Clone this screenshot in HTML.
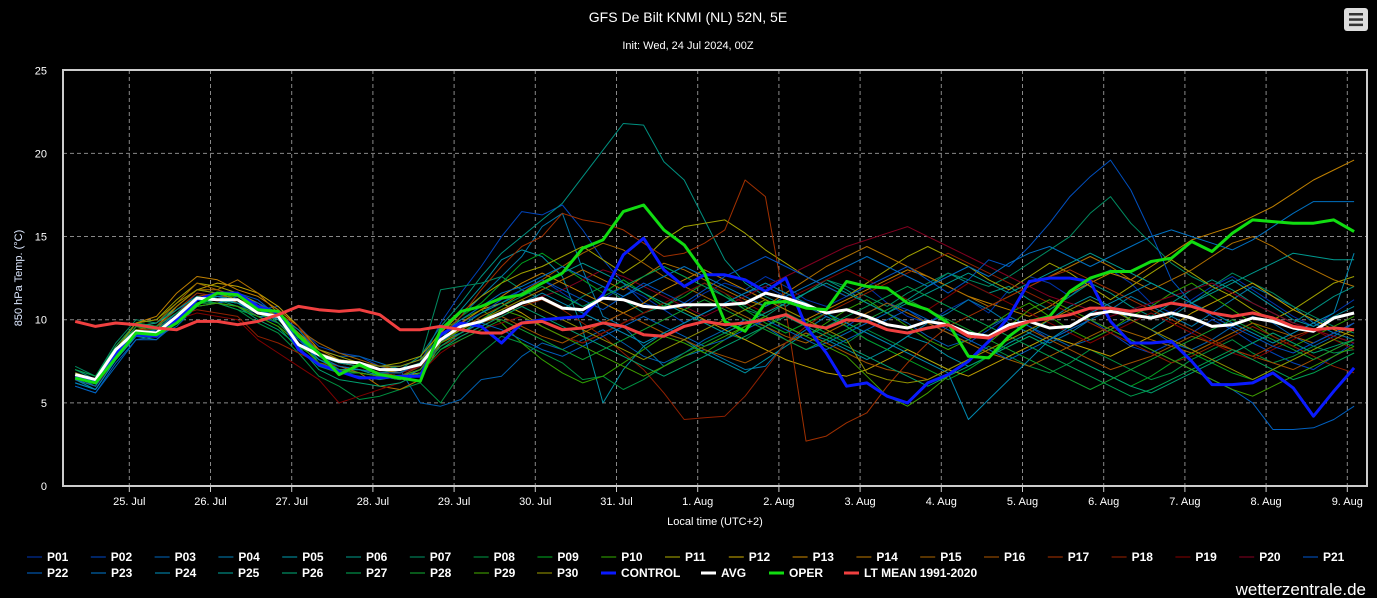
<!DOCTYPE html>
<html><head><meta charset="utf-8"><style>
html,body{margin:0;padding:0;background:#000;width:1377px;height:598px;overflow:hidden}
svg{display:block;font-family:"Liberation Sans",sans-serif}
</style></head><body>
<svg id="chart" width="1377" height="598" viewBox="0 0 1377 598">
<rect x="0" y="0" width="1377" height="598" fill="#000"/>
<text x="688" y="22" text-anchor="middle" fill="#fff" font-size="14">GFS De Bilt KNMI (NL) 52N, 5E</text>
<text x="688" y="49" text-anchor="middle" fill="#fff" font-size="11">Init: Wed, 24 Jul 2024, 00Z</text>
<g>
<rect x="1344" y="8" width="24" height="23" rx="3" fill="#ddd"/>
<rect x="1349" y="13" width="14" height="2.5" fill="#333"/><rect x="1349" y="18.3" width="14" height="2.5" fill="#333"/><rect x="1349" y="23.6" width="14" height="2.5" fill="#333"/>
</g>
<g id="grid"></g>
<g id="series"></g>
<rect x="63" y="70" width="1304" height="416" fill="none" stroke="#ccc" stroke-width="2"/>
<g id="axes"></g>
<text transform="translate(22,278) rotate(-90)" text-anchor="middle" fill="#dde8ff" font-size="11">850 hPa Temp. (°C)</text>
<text x="715" y="525" text-anchor="middle" fill="#fff" font-size="11">Local time (UTC+2)</text>
<g id="legend"></g>
<text x="1366" y="595" text-anchor="end" fill="#fff" font-size="17">wetterzentrale.de</text>
</svg>
<script>
const yTicks=[0,5,10,15,20,25];
const xTickLabels=["25. Jul","26. Jul","27. Jul","28. Jul","29. Jul","30. Jul","31. Jul","1. Aug","2. Aug","3. Aug","4. Aug","5. Aug","6. Aug","7. Aug","8. Aug","9. Aug"];
const memberNames=["P01","P02","P03","P04","P05","P06","P07","P08","P09","P10","P11","P12","P13","P14","P15","P16","P17","P18","P19","P20","P21","P22","P23","P24","P25","P26","P27","P28","P29","P30"];
const memberColors=["#0033aa","#0044bb","#0060b0","#0077aa","#0090a0","#009080","#008a60","#009040","#00a020","#30a000","#a0a000","#c0a000","#c08000","#b07000","#a06000","#a05000","#a03000","#902000","#800000","#800020","#0050c0","#0060c0","#0070c0","#0088b0","#009a90","#00a070","#00a050","#10a030","#40a000","#909000"];
const P01=[6.8,6.2,8.0,9.4,9.3,10.4,11.6,11.4,11.0,10.2,9.8,8.8,8.0,7.6,7.4,7.0,7.2,7.6,9.0,9.8,10.4,11.0,11.8,12.4,11.6,10.8,11.2,12.0,11.4,10.6,10.8,11.6,12.2,11.8,12.6,12.0,11.2,10.8,11.4,12.0,11.0,10.2,9.8,10.6,11.2,10.4,11.8,12.6,12.2,11.4,12.4,13.0,12.2,11.0,10.4,11.2,12.0,12.6,11.8,11.0,10.2,9.6,10.4,11.2];
const P02=[6.2,5.8,7.6,9.0,9.2,10.0,11.0,11.4,11.2,10.6,10.8,9.6,8.4,8.0,7.8,7.2,6.8,7.4,9.8,11.6,13.2,15.0,16.5,16.3,16.9,15.4,13.6,12.2,11.0,10.6,9.8,10.4,11.0,11.6,12.0,11.4,10.8,10.2,9.6,10.4,11.0,10.6,9.8,9.2,8.6,9.4,10.2,9.6,8.8,9.4,10.0,9.2,8.4,8.0,8.6,9.2,10.0,9.4,8.6,8.0,7.4,7.0,7.8,8.6];
const P03=[6.0,5.6,7.2,8.8,9.0,9.6,10.8,11.0,11.2,10.8,10.0,9.0,8.2,7.8,7.8,7.4,7.0,5.0,4.8,5.2,6.4,6.6,7.8,8.6,8.2,8.8,9.4,8.6,7.8,7.4,8.0,8.8,9.4,10.0,9.6,8.8,8.2,8.6,9.2,9.8,10.4,9.8,9.0,8.4,8.8,9.6,10.2,9.6,9.0,8.4,8.8,9.4,10.0,9.4,8.6,8.2,8.8,9.6,10.2,9.8,9.0,8.4,9.0,9.8];
const P04=[6.6,6.0,7.8,9.2,9.4,10.2,11.4,11.2,11.6,11.0,10.4,9.2,7.8,7.0,7.0,6.8,6.6,7.0,8.8,10.2,11.4,12.6,13.8,15.6,16.4,13.0,10.2,9.6,8.4,7.2,7.8,8.2,7.6,7.0,7.2,8.6,9.4,10.2,9.6,8.8,8.2,9.0,9.8,10.4,11.2,10.6,9.8,9.2,8.6,9.2,10.0,10.6,11.4,10.8,10.2,9.6,10.4,11.2,12.0,11.4,10.8,9.8,9.2,8.8];
const P05=[6.4,5.8,7.6,9.0,8.8,10.0,11.0,11.0,10.8,10.2,10.2,9.0,7.4,6.8,6.8,6.6,6.6,7.2,9.2,10.6,12.0,13.6,14.2,13.8,12.6,9.4,5.0,7.0,8.4,9.2,8.8,8.0,7.4,6.8,7.6,8.4,9.2,8.8,8.2,7.6,8.2,9.0,8.6,7.8,7.2,7.8,8.6,9.2,10.0,10.8,11.4,10.8,10.0,9.4,10.2,11.0,11.8,12.4,11.6,10.8,10.0,9.6,10.2,10.8];
const P06=[7.0,6.4,8.4,9.8,9.6,10.6,11.4,11.2,11.0,10.4,10.0,8.8,7.6,7.2,7.0,6.8,7.0,7.8,9.6,11.0,12.6,14.0,15.0,16.0,17.0,18.6,20.2,21.8,21.7,19.5,18.4,16.0,13.6,12.2,11.4,10.8,11.6,12.4,11.8,11.0,10.4,11.2,12.0,12.8,12.2,11.6,12.0,11.2,10.6,11.4,12.2,11.6,10.8,10.2,11.0,11.8,12.4,11.8,11.0,10.4,9.8,10.6,11.4,12.0];
const P07=[7.2,6.6,8.6,10.0,9.8,10.8,11.8,11.6,11.2,10.8,9.8,8.6,7.4,6.8,7.2,7.0,7.2,7.6,11.8,12.0,12.2,12.6,11.8,11.2,10.6,11.4,12.0,11.2,10.4,10.8,11.6,12.2,11.4,10.6,10.2,11.0,11.6,12.4,12.0,11.4,10.8,11.6,12.2,12.8,12.4,12.0,12.6,13.4,14.2,15.0,16.4,17.4,15.8,14.6,13.4,12.6,12.0,12.8,12.2,11.6,10.8,10.2,9.6,9.2];
const P08=[6.8,6.4,8.0,9.4,9.4,10.0,11.2,11.0,10.6,9.8,9.2,8.0,6.6,6.0,5.2,5.4,5.8,6.2,5.0,6.8,8.0,9.0,8.6,8.0,7.4,6.4,6.6,5.8,6.4,7.2,8.0,8.6,9.2,8.8,9.6,10.4,9.8,9.2,8.6,9.4,8.8,8.2,7.6,7.0,7.6,8.4,7.8,7.2,6.8,7.4,8.2,7.6,7.0,6.4,6.8,7.6,8.2,8.8,8.0,7.4,7.8,8.4,8.0,8.2];
const P09=[7.0,6.6,8.2,9.8,9.6,10.4,11.0,11.2,11.0,10.8,10.2,8.4,7.6,7.0,7.0,6.6,6.6,7.2,9.0,10.2,11.0,12.2,13.4,14.0,13.2,12.4,11.6,12.4,11.6,10.8,11.4,12.2,11.6,10.6,9.8,9.2,9.8,10.4,9.6,8.8,8.2,7.6,7.0,6.4,7.0,7.8,8.4,9.0,8.4,7.8,7.2,6.6,6.0,6.6,7.4,8.0,7.4,6.8,6.4,7.0,7.6,8.2,8.8,8.4];
const P10=[6.6,6.2,7.8,9.6,9.2,10.2,11.0,11.4,11.4,10.6,10.2,9.4,8.0,7.6,7.4,7.0,6.8,7.4,9.4,10.0,10.6,9.8,8.6,7.6,6.8,6.2,6.6,7.4,8.2,9.0,8.6,8.0,8.8,9.6,10.2,9.6,9.0,9.8,10.6,11.2,10.4,9.6,8.8,8.2,8.8,9.6,10.4,11.0,10.2,9.4,8.8,9.4,10.2,10.8,11.6,12.2,11.4,10.6,9.8,9.0,8.4,9.0,9.6,10.2];
const P11=[6.6,6.2,8.2,9.8,10.0,11.2,12.2,12.0,11.6,11.0,10.2,9.2,8.2,7.8,7.4,7.2,7.4,7.8,9.2,10.4,11.4,12.2,12.8,13.2,13.8,14.4,13.6,12.8,13.6,14.8,15.6,15.8,16.0,15.2,14.2,13.4,12.6,12.0,11.4,12.2,13.0,13.8,14.4,13.8,13.2,12.4,11.8,12.6,13.4,12.8,12.0,11.2,12.0,12.8,13.6,12.8,12.0,11.4,10.6,10.0,10.6,11.4,12.2,12.6];
const P12=[6.4,6.0,7.8,9.4,9.6,10.8,11.8,12.2,12.0,11.6,10.8,9.6,8.0,7.4,7.2,6.8,6.6,6.8,8.6,9.8,10.6,11.0,10.4,9.6,9.0,8.6,9.2,9.8,10.4,11.0,10.6,10.0,9.4,8.8,8.2,7.6,7.2,6.8,6.6,7.0,7.6,8.2,7.6,7.0,6.6,7.2,7.8,8.4,9.0,8.6,8.2,7.8,8.4,9.0,9.6,10.4,11.0,11.6,12.2,11.4,10.6,10.0,9.4,9.0];
const P13=[6.8,6.4,8.4,9.8,10.2,11.6,12.6,12.4,11.8,11.4,10.6,9.6,8.2,7.6,7.4,7.0,6.8,7.2,8.8,9.8,10.6,11.4,12.2,12.8,12.2,11.6,11.0,10.4,11.0,11.8,12.4,13.0,12.4,11.8,11.2,10.6,10.0,10.6,11.2,11.8,12.4,13.0,12.6,12.0,11.4,11.0,10.6,10.2,10.8,11.6,12.2,12.8,12.4,13.2,14.0,14.8,15.2,15.6,16.2,16.8,17.6,18.4,19.0,19.6];
const P14=[6.4,6.0,7.8,9.2,9.4,10.8,11.8,11.8,12.4,11.6,10.4,9.0,7.8,7.2,6.8,6.0,5.8,6.4,8.6,9.2,10.0,10.6,11.2,11.8,12.4,13.0,12.4,11.8,12.6,13.4,13.0,12.4,11.8,11.2,10.8,11.6,12.4,13.2,13.8,14.4,13.8,13.2,12.6,12.0,11.4,10.8,11.4,12.0,12.6,13.2,13.8,13.2,12.4,11.8,12.4,13.0,13.8,14.6,15.0,14.4,13.6,13.0,12.4,12.0];
const P15=[6.8,6.4,8.0,9.6,9.8,11.0,12.2,11.8,11.4,11.0,10.2,9.4,8.6,8.0,7.6,7.2,7.0,7.4,8.8,9.4,10.2,10.8,11.6,12.4,13.2,14.0,14.6,14.2,13.4,12.6,12.0,11.4,10.8,10.2,9.6,9.0,8.6,9.2,9.8,10.4,11.0,10.4,9.8,9.2,8.6,8.0,7.6,7.2,7.8,8.4,9.0,9.6,9.2,8.8,8.4,8.0,8.6,9.2,9.8,9.4,9.0,8.6,9.2,9.8];
const P16=[6.6,6.2,8.0,9.4,9.6,10.4,11.4,11.6,11.0,10.6,10.0,9.0,7.8,7.4,7.2,6.8,6.6,7.0,8.4,9.2,9.8,10.2,9.6,9.0,8.6,9.2,9.8,10.4,9.8,9.2,8.8,8.2,7.8,7.4,8.0,8.6,9.2,8.6,8.0,7.4,7.0,6.8,6.4,7.0,7.6,8.2,8.8,9.4,8.8,8.2,7.6,7.0,7.4,7.8,8.4,9.0,8.6,8.2,7.8,7.4,7.0,7.6,8.2,8.8];
const P17=[6.8,6.4,8.2,9.6,9.6,10.6,11.6,11.4,11.2,10.8,10.4,9.6,8.0,7.4,7.2,6.8,6.6,7.2,9.0,10.2,11.8,13.2,14.4,15.0,16.4,16.0,15.8,15.4,14.6,13.8,14.0,14.6,15.4,18.4,17.4,10.6,2.7,3.0,3.8,4.4,6.0,7.4,8.6,9.6,10.2,10.8,11.4,12.0,12.6,13.0,12.4,11.8,11.2,10.6,10.0,9.4,8.8,8.2,7.8,8.4,9.0,9.4,9.0,8.6];
const P18=[6.6,6.2,8.0,9.4,9.4,10.2,10.6,10.4,10.2,9.0,8.6,8.0,7.4,7.2,7.0,6.8,6.8,7.2,8.4,9.0,9.6,10.2,10.8,11.2,10.6,9.8,9.0,8.0,7.0,5.6,4.0,4.1,4.2,5.4,7.0,8.6,9.6,10.4,11.0,11.6,12.2,12.8,13.4,14.0,13.4,12.8,12.2,11.6,11.0,10.4,9.8,9.2,8.6,8.0,7.4,7.8,8.4,9.0,9.6,9.0,8.4,7.8,7.2,6.8];
const P19=[6.4,6.0,7.6,9.2,9.2,10.0,10.4,10.2,10.0,8.8,8.0,7.2,6.4,5.0,5.4,5.8,6.2,6.8,8.0,8.8,9.4,9.8,10.2,9.6,9.0,8.6,9.2,9.8,10.4,11.0,11.6,12.2,11.6,11.0,10.4,11.2,11.8,12.4,13.0,12.4,11.8,11.2,10.6,11.4,12.2,11.6,11.0,10.4,9.8,9.2,8.6,9.2,9.8,10.4,9.8,9.2,8.6,8.0,7.6,8.2,8.8,9.4,8.8,8.2];
const P20=[6.8,6.4,8.0,9.6,9.4,10.4,11.2,11.0,10.8,10.4,10.0,9.0,7.8,7.2,7.0,6.8,6.8,7.2,8.6,9.4,10.0,10.6,11.0,11.4,11.8,12.4,13.0,12.6,12.0,11.4,10.8,10.2,10.8,11.4,12.0,12.6,13.2,13.8,14.4,14.8,15.2,15.6,15.0,14.4,13.8,13.2,12.6,12.0,11.4,11.0,10.6,10.2,10.6,11.0,11.4,11.8,12.2,11.6,11.0,10.4,9.8,9.4,9.0,8.6];
const P21=[6.2,5.8,7.6,9.0,9.2,10.2,11.2,11.4,11.6,11.2,10.2,8.8,7.6,7.0,6.8,6.6,6.4,7.0,8.6,9.6,10.4,11.2,11.8,12.4,11.8,11.2,10.6,11.4,12.2,11.6,11.0,11.8,12.6,13.2,13.8,13.2,12.6,12.0,11.4,12.0,12.6,13.2,12.4,11.6,12.4,13.6,13.2,14.4,15.8,17.4,18.6,19.6,17.8,15.2,12.4,11.0,10.2,9.6,9.0,8.4,8.0,8.6,9.2,9.8];
const P22=[6.0,5.6,7.4,8.8,8.8,9.8,10.8,11.0,11.4,11.0,10.4,9.4,8.0,7.6,7.4,7.2,7.2,7.6,8.8,9.2,9.8,9.4,8.8,8.2,7.8,8.4,9.0,9.6,10.2,9.6,9.0,8.4,8.8,9.4,10.0,9.4,8.8,8.2,8.8,9.4,10.0,10.6,10.0,9.4,8.8,8.2,7.6,8.2,8.8,9.4,10.0,9.4,8.8,8.2,7.6,7.0,6.4,5.8,5.0,3.4,3.4,3.5,4.0,4.8];
const P23=[6.4,6.0,7.8,9.2,9.4,10.4,11.2,11.2,11.0,10.6,10.2,9.2,7.8,7.2,7.0,6.8,6.8,7.4,9.0,10.0,10.8,11.6,12.0,12.6,13.2,12.6,12.0,11.4,12.0,12.6,13.2,12.6,12.0,11.4,10.8,11.4,12.0,12.6,13.2,13.8,13.2,12.6,12.0,12.6,13.2,12.6,13.4,14.0,14.4,13.8,13.2,13.8,14.4,15.0,15.4,15.0,14.6,14.2,14.8,15.6,16.4,17.1,17.1,17.1];
const P24=[6.2,5.8,7.6,9.0,9.0,10.0,11.0,11.4,11.2,10.6,10.0,9.0,7.6,7.0,7.0,6.6,6.4,7.0,8.4,9.2,9.8,10.4,11.0,11.6,11.0,10.4,9.8,9.2,8.6,9.2,9.8,10.4,11.0,11.6,12.2,11.6,11.0,10.4,9.8,9.2,8.6,8.0,7.4,6.8,4.0,5.2,6.4,7.6,8.8,9.6,10.4,11.0,11.6,12.2,11.6,11.0,10.4,9.8,9.2,8.6,9.2,9.8,10.4,14.0];
const P25=[6.8,6.4,8.2,9.6,9.8,10.6,11.4,11.2,11.0,10.4,10.0,9.0,7.8,7.4,7.2,7.0,7.0,7.4,8.8,9.6,10.4,11.0,11.6,12.2,12.8,13.4,12.8,12.2,11.6,11.0,10.4,9.8,9.2,9.8,10.4,11.0,11.6,12.2,11.6,11.0,10.4,11.0,11.6,12.2,12.8,12.2,11.6,12.2,12.8,13.4,14.0,13.4,12.8,12.2,11.6,11.0,11.6,12.2,12.8,13.4,14.0,13.8,13.6,13.6];
const P26=[6.6,6.2,7.8,9.4,9.2,10.2,11.0,11.2,10.8,10.0,9.4,8.4,7.0,6.4,6.2,6.0,6.2,6.8,8.2,9.0,9.6,10.2,10.8,10.2,9.6,9.0,8.4,7.8,7.2,6.6,7.2,7.8,8.4,9.0,9.6,10.2,9.6,9.0,8.4,7.8,7.2,6.6,6.0,6.6,7.2,7.8,8.4,9.0,8.4,7.8,7.2,6.6,6.0,5.6,6.2,6.8,7.4,8.0,8.6,9.2,8.6,8.0,8.4,8.8];
const P27=[7.0,6.6,8.4,9.8,9.6,10.4,11.2,11.0,10.6,10.2,9.6,8.2,7.2,6.8,6.6,6.4,6.6,7.0,8.4,9.2,10.0,10.8,11.4,12.0,11.4,10.8,11.4,12.0,12.6,13.2,12.6,12.0,11.4,10.8,10.2,9.6,9.0,9.6,10.2,10.8,11.4,12.0,11.4,10.8,10.2,9.6,9.0,8.4,7.8,7.2,6.6,6.0,5.4,5.8,6.4,7.0,7.6,8.2,7.6,7.0,6.4,6.8,7.4,8.0];
const P28=[6.8,6.4,8.0,9.6,9.4,10.2,11.0,11.0,10.8,10.4,9.8,8.6,7.4,6.8,6.8,6.6,6.4,6.8,8.2,8.8,9.4,10.0,9.4,8.8,8.2,7.6,8.2,8.8,9.4,10.0,10.6,11.2,10.6,10.0,9.4,8.8,8.2,8.8,9.4,10.0,10.6,11.2,10.6,10.0,9.4,8.8,8.2,7.6,7.0,6.4,5.8,6.4,7.0,7.6,8.2,8.8,9.4,10.0,9.4,8.8,8.2,7.6,8.2,8.8];
const P29=[6.6,6.2,7.8,9.4,9.2,10.0,10.8,11.0,10.8,10.2,9.6,8.6,7.4,7.0,6.8,6.6,6.6,7.0,8.6,9.4,10.0,10.6,10.2,9.6,9.0,8.4,7.8,7.2,6.6,7.2,7.8,8.4,9.0,9.6,10.2,9.6,9.0,8.4,7.8,6.6,5.4,4.8,5.6,6.6,7.6,8.6,9.6,10.6,11.2,10.6,10.0,9.4,8.8,8.2,7.6,7.0,6.4,5.8,5.4,6.0,6.6,7.2,7.8,8.4];
const P30=[6.8,6.4,8.2,9.8,10.0,11.0,11.8,11.6,11.2,10.8,10.2,9.2,8.0,7.6,7.4,7.2,7.2,7.6,8.8,9.4,10.0,10.6,11.2,10.6,10.0,9.4,8.8,8.2,7.6,8.2,8.8,9.4,10.0,10.6,11.2,10.6,10.0,9.4,8.8,6.8,6.4,6.2,6.4,7.0,7.6,8.2,8.8,9.4,10.0,10.6,11.2,10.6,10.0,9.4,8.8,8.2,7.6,7.0,6.4,7.0,7.6,8.2,8.8,9.4];
const controlValues=[6.6,6.3,8.0,9.1,9.0,10.0,11.2,11.6,11.6,10.8,10.4,8.2,7.3,6.9,6.5,6.5,6.6,6.6,9.1,9.8,9.6,8.6,9.8,10.0,10.1,10.2,11.5,13.9,14.9,13.0,12.0,12.7,12.7,12.4,11.7,12.5,9.6,8.0,6.0,6.2,5.4,5.0,6.2,6.7,7.5,8.7,10.2,12.3,12.5,12.5,12.3,9.9,8.6,8.6,8.7,7.5,6.1,6.1,6.2,6.8,5.9,4.2,5.7,7.1];
const avgValues=[6.7,6.4,8.2,9.3,9.2,10.2,11.3,11.2,11.2,10.4,10.2,8.5,7.9,7.5,7.4,7.0,7.0,7.3,8.8,9.6,9.9,10.4,11.0,11.3,10.7,10.6,11.3,11.2,10.8,10.7,10.9,10.9,10.9,11.0,11.6,11.3,10.9,10.4,10.6,10.2,9.7,9.5,9.9,9.7,9.2,9.0,9.7,9.9,9.5,9.6,10.3,10.5,10.3,10.1,10.4,10.1,9.6,9.7,10.1,9.9,9.5,9.3,10.1,10.4];
const operValues=[6.5,6.2,7.7,9.2,9.1,9.8,10.9,11.6,11.5,10.6,10.5,9.0,8.0,6.7,7.3,6.7,6.5,6.3,9.4,10.5,10.8,11.3,11.5,12.2,12.8,14.3,14.8,16.5,16.9,15.4,14.5,12.8,9.9,9.3,11.0,11.1,10.7,10.6,12.3,12.0,11.9,11.0,10.6,9.8,7.8,7.7,9.0,9.9,10.2,11.7,12.5,12.9,12.9,13.5,13.7,14.7,14.1,15.2,16.0,15.9,15.8,15.8,16.0,15.3];
const ltMeanValues=[9.9,9.6,9.8,9.7,9.5,9.4,9.9,9.9,9.7,9.9,10.3,10.8,10.6,10.5,10.6,10.3,9.4,9.4,9.6,9.4,9.2,9.2,9.8,9.9,9.4,9.5,9.8,9.6,9.1,9.0,9.6,9.9,9.7,9.8,10.0,10.3,9.7,9.5,10.0,9.9,9.4,9.2,9.5,9.7,9.0,8.9,9.5,9.9,10.1,10.3,10.7,10.7,10.5,10.7,11.0,10.8,10.4,10.2,10.4,10.1,9.6,9.4,9.5,9.4];
const members=[P01,P02,P03,P04,P05,P06,P07,P08,P09,P10,P11,P12,P13,P14,P15,P16,P17,P18,P19,P20,P21,P22,P23,P24,P25,P26,P27,P28,P29,P30];

const NS="http://www.w3.org/2000/svg";
function yScale(v){return 486-v*16.63;}
function xScaleHours(h){return 48.1+h/24*81.2;}
function xIdx(i){return xScaleHours(8+6*i);}
function mk(tag,attrs,parent){const e=document.createElementNS(NS,tag);for(const k in attrs)e.setAttribute(k,attrs[k]);parent.appendChild(e);return e;}
const grid=document.getElementById('grid'),axes=document.getElementById('axes'),series=document.getElementById('series'),legend=document.getElementById('legend');
yTicks.forEach(t=>{
  const y=yScale(t);
  if(t>0&&t<25){const l=mk('line',{x1:63,x2:1367,y1:y,y2:y,stroke:'#888','stroke-dasharray':'4,3','stroke-width':1},grid);
  
  }
  const tx=mk('text',{x:47,y:y+4,'text-anchor':'end',fill:'#fff','font-size':11},axes);
  tx.textContent=t;
  
  
});
xTickLabels.forEach((lab,k)=>{
  const x=xScaleHours(24*(k+1));
  const l=mk('line',{x1:x,x2:x,y1:70,y2:486,stroke:'#888','stroke-dasharray':'4,3','stroke-width':1},grid);
  
  
  const tk=mk('line',{x1:x,x2:x,y1:486,y2:492,stroke:'#ccc'},axes);
  
  
  const tx=mk('text',{x:x,y:505,'text-anchor':'middle',fill:'#fff','font-size':11},axes);
  tx.textContent=lab;
  
  
});
function drawLine(vals,color,w,name){
  const pts=vals.map((v,i)=>xIdx(i).toFixed(1)+','+yScale(v).toFixed(1)).join(' ');
  const p=mk('polyline',{points:pts,fill:'none',stroke:color,'stroke-width':w,'stroke-linejoin':'round'},series);
  
  
}
members.forEach((m,k)=>drawLine(m,memberColors[k],1,'series-'+memberNames[k].toLowerCase()));
drawLine(controlValues,'#0a1aff',3,'series-control');
drawLine(avgValues,'#ffffff',3,'series-avg');
drawLine(operValues,'#11dd11',3,'series-oper');
drawLine(ltMeanValues,'#f04040',3,'series-lt-mean');
const legendNames=memberNames.concat(["CONTROL","AVG","OPER","LT MEAN 1991-2020"]);
const legendColors=memberColors.concat(["#0a1aff","#ffffff","#11dd11","#f04040"]);
const row2x=[47,111,175,238,302,366,430,494,557,621,721,789,864];
legendNames.forEach((n,k)=>{
  let x,y;
  if(k<21){x=47+k*63.8;y=561;}else{x=row2x[k-21];y=577;}
  const g=mk('g',{},legend);
  
  
  mk('line',{x1:x-20,x2:x-5,y1:y-4,y2:y-4,stroke:legendColors[k],'stroke-width':k<30?2:3,opacity:k<30?0.55:1},g);
  const t=mk('text',{x:x,y:y,fill:'#fff','font-size':12,'font-weight':'bold'},g);
  t.textContent=n;
});
</script>
</body></html>
